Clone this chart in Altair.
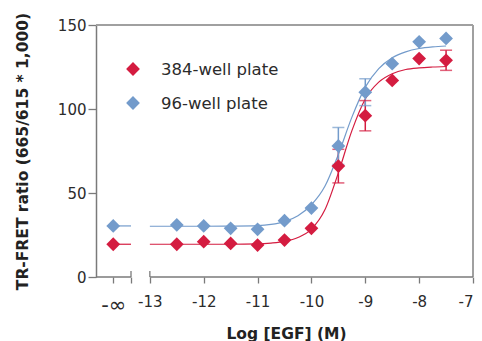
import altair as alt
import pandas as pd

# ---------------- data ----------------
series_names = ["384-well plate", "96-well plate"]
colors = ["#d41c40", "#739bcb"]

NEG_INF_POS = -13.68          # where "-∞" is drawn on the x axis
BREAK_END = -13.35            # end of the left stub of the broken axis
AXIS_RESTART = -13.0          # where the main axis restarts

x_vals = [NEG_INF_POS, -12.5, -12.0, -11.5, -11.0, -10.5, -10.0, -9.5, -9.0, -8.5, -8.0, -7.5]
red_y = [19.5, 19.5, 21.0, 20.0, 19.0, 22.0, 29.0, 66.0, 96.0, 117.0, 130.0, 129.0]
blue_y = [30.4, 31.0, 30.4, 29.0, 28.4, 33.5, 41.0, 78.0, 110.0, 127.0, 140.0, 142.0]
red_err = [0, 0, 0, 0, 0, 0, 0, 10, 9, 0, 0, 6]
blue_err = [0, 0, 0, 0, 0, 0, 0, 11, 8, 0, 0, 0]

curve_x = [-13.0, -12.5, -12.0, -11.5, -11.0, -10.75, -10.5, -10.25, -10.0, -9.75,
           -9.5, -9.25, -9.0, -8.75, -8.5, -8.25, -8.0, -7.75, -7.5]
red_curve = [19.5, 19.5, 19.5, 19.5, 19.7, 20.2, 21.2, 23.5, 28.5, 40.0,
             62.0, 87.0, 106.0, 116.0, 121.0, 123.5, 124.5, 125.0, 125.3]
blue_curve = [30.2, 30.2, 30.2, 30.3, 30.6, 31.3, 33.0, 36.5, 43.0, 54.0,
              73.0, 95.0, 113.0, 124.0, 130.5, 134.0, 136.0, 137.0, 137.5]

x_domain = [-14, -7]
y_domain = [0, 150]
x_ticks = [NEG_INF_POS, BREAK_END, -13, -12, -11, -10, -9, -8, -7]
y_ticks = [0, 50, 100, 150]

# ---------------- tables ----------------
ys = {series_names[0]: red_y, series_names[1]: blue_y}
errs = {series_names[0]: red_err, series_names[1]: blue_err}
curves = {series_names[0]: red_curve, series_names[1]: blue_curve}

pts = pd.DataFrame([
    {"x": x, "y": y, "series": s}
    for s in series_names for x, y in zip(x_vals, ys[s])
])
err_df = pd.DataFrame([
    {"x": x, "lo": y - e, "hi": y + e, "series": s}
    for s in series_names for x, y, e in zip(x_vals, ys[s], errs[s]) if e > 0
])
curve_rows = []
for s in series_names:
    curve_rows.append({"x": NEG_INF_POS, "y": ys[s][0], "series": s, "seg": s + "a", "o": 0})
    curve_rows.append({"x": BREAK_END, "y": ys[s][0], "series": s, "seg": s + "a", "o": 1})
    for i, (x, y) in enumerate(zip(curve_x, curves[s])):
        curve_rows.append({"x": x, "y": y, "series": s, "seg": s + "b", "o": i})
curve_df = pd.DataFrame(curve_rows)

axis_segs = pd.DataFrame({"x": [x_domain[0], AXIS_RESTART], "x2": [BREAK_END, x_domain[1]]})
break_df = pd.DataFrame({"x": [BREAK_END, AXIS_RESTART]})
frame_top = pd.DataFrame({"x": [x_domain[0]], "x2": [x_domain[1]], "y": [y_domain[1]]})
frame_right = pd.DataFrame({"x": [x_domain[1]], "y": [y_domain[0]], "y2": [y_domain[1]]})

# ---------------- styling ----------------
FONT = "DejaVu Sans"
GREY = "#7a7a7a"
TXT = "#2b2b2b"

xs = alt.Scale(domain=x_domain, nice=False, zero=False)
ysc = alt.Scale(domain=y_domain, nice=False, zero=False)

x_axis = alt.Axis(
    values=x_ticks,
    labelExpr="datum.value < -13.5 ? '-∞' : (datum.value < -13.1 ? '' : '' + datum.value)",
    labelFontSize={"condition": {"test": "datum.value < -13.5", "value": 21}, "value": 15},
    domain=False, grid=False, ticks=True, tickColor=GREY, tickSize=6, tickWidth=1.3,
    labelFont=FONT, labelColor=TXT, labelPadding=11,
    title="Log [EGF] (M)", titleFont=FONT, titleFontSize=15.5, titleFontWeight="bold",
    titleColor="#222222", titleX=190, titleY=56, titleAlign="center", titleBaseline="middle",
)
y_axis = alt.Axis(
    values=y_ticks, grid=False, domain=True, domainColor=GREY, domainWidth=1.5,
    tickColor=GREY, tickSize=8, tickWidth=1.3,
    labelFont=FONT, labelFontSize=15, labelColor=TXT, labelPadding=2,
    title="TR-FRET ratio (665/615 * 1,000)", titleFont=FONT, titleFontSize=15.5,
    titleFontWeight="bold", titleColor="#222222", titleAngle=-90,
    titleX=-74, titleY=126, titleAlign="center", titleBaseline="middle",
)

X = lambda f: alt.X(f, type="quantitative", scale=xs, axis=x_axis)
Y = lambda f: alt.Y(f, type="quantitative", scale=ysc, axis=y_axis)
col_scale = alt.Scale(domain=series_names, range=colors)

lines = alt.Chart(curve_df).mark_line(strokeWidth=1.2, interpolate="monotone").encode(
    x=X("x"), y=Y("y"),
    stroke=alt.Stroke("series:N", scale=col_scale, legend=None),
    detail="seg:N", order="o:Q",
)

err_rules = alt.Chart(err_df).mark_rule(strokeWidth=1.5).encode(
    x=X("x"), y=Y("lo"), y2="hi:Q",
    stroke=alt.Stroke("series:N", scale=col_scale, legend=None),
)
caps_hi = alt.Chart(err_df).mark_tick(orient="horizontal", size=12, thickness=1.5).encode(
    x=X("x"), y=Y("hi"), fill=alt.Fill("series:N", scale=col_scale, legend=None),
)
caps_lo = alt.Chart(err_df).mark_tick(orient="horizontal", size=12, thickness=1.5).encode(
    x=X("x"), y=Y("lo"), fill=alt.Fill("series:N", scale=col_scale, legend=None),
)

points = alt.Chart(pts).mark_point(shape="diamond", filled=True, size=190, opacity=1).encode(
    x=X("x"), y=Y("y"),
    fill=alt.Fill("series:N", scale=col_scale, legend=None),
)

# manual legend (inside the plot, upper left)
legend_layers = []
for i, (s, c) in enumerate(zip(series_names, colors)):
    legend_layers.append(
        alt.Chart(pd.DataFrame({"label": [s]})).mark_point(
            shape="diamond", filled=True, size=190, opacity=1, color=c
        ).encode(x=alt.value(37), y=alt.value(44 + 34 * i))
    )
    legend_layers.append(
        alt.Chart(pd.DataFrame({"label": [s]})).mark_text(
            align="left", baseline="middle", font=FONT, fontSize=16.5, color=TXT
        ).encode(x=alt.value(65), y=alt.value(45 + 34 * i), text="label:N")
    )

seg_rules = alt.Chart(axis_segs).mark_rule(color=GREY, strokeWidth=1.5).encode(
    x=X("x"), x2="x2:Q", y=alt.value(252),
)
break_marks = alt.Chart(break_df).mark_rule(color=GREY, strokeWidth=1.3).encode(
    x=X("x"), y=alt.value(246), y2=alt.value(252),
)
top_rule = alt.Chart(frame_top).mark_rule(color="#a0a0a0", strokeWidth=2).encode(
    x=X("x"), x2="x2:Q", y=Y("y"),
)
right_rule = alt.Chart(frame_right).mark_rule(color="#a0a0a0", strokeWidth=2).encode(
    x=X("x"), y=Y("y"), y2="y2:Q",
)

chart = alt.layer(
    top_rule, right_rule, seg_rules, break_marks, lines, err_rules, caps_hi, caps_lo, points,
    *legend_layers
).properties(
    width=377, height=252,
    autosize=alt.AutoSizeParams(type="none"),
    padding={"left": 96, "right": 9, "top": 25, "bottom": 64},
).configure_view(stroke=None)

chart.save("out.html", embed_options={"renderer": "svg", "actions": False})
